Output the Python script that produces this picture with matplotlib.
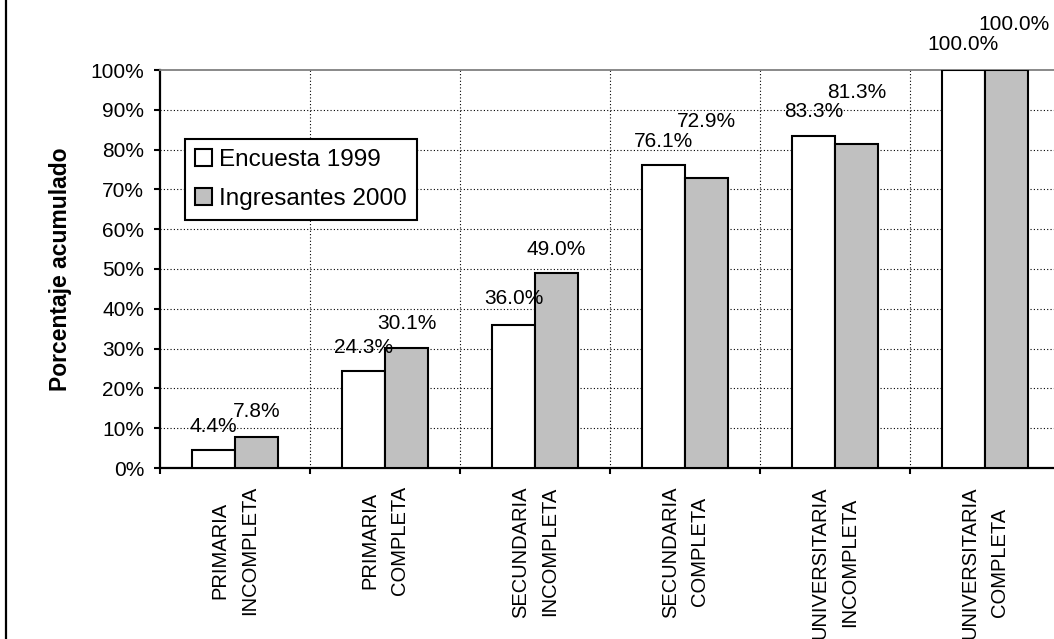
import matplotlib
matplotlib.use("Agg")
import matplotlib.pyplot as plt
from matplotlib.lines import Line2D
import numpy as np

plt.rcParams['font.family'] = ['Liberation Sans', 'DejaVu Sans']

categories = ["PRIMARIA\nINCOMPLETA", "PRIMARIA\nCOMPLETA", "SECUNDARIA\nINCOMPLETA",
              "SECUNDARIA\nCOMPLETA", "UNIVERSITARIA\nINCOMPLETA", "UNIVERSITARIA\nCOMPLETA"]
encuesta_1999 = [4.4, 24.3, 36.0, 76.1, 83.3, 100.0]
ingresantes_2000 = [7.8, 30.1, 49.0, 72.9, 81.3, 100.0]
series_names = ["Encuesta 1999", "Ingresantes 2000"]
yticks = [0, 10, 20, 30, 40, 50, 60, 70, 80, 90, 100]

# label offsets (pixels above bar top) as placed in the original
enc_label_dy = [24, 24, 26, 24, 25, 25]
ing_label_dy = [25, 25, 23, 56, 52, 46]
ing_label_dx = [0, 0, 0, 0, 0, 7]

W, H = 1054, 639
fig = plt.figure(figsize=(W / 100, H / 100), dpi=100)
ax = fig.add_axes([160 / W, 1 - 468 / H, 900 / W, 398 / H])

x = np.arange(len(categories))
bw = 0.2867
b1 = ax.bar(x - bw / 2, encuesta_1999, bw, color='white', edgecolor='black', linewidth=1.5,
            label=series_names[0], zorder=3)
b2 = ax.bar(x + bw / 2, ingresantes_2000, bw, color='#C0C0C0', edgecolor='black', linewidth=1.5,
            label=series_names[1], zorder=3)

ax.set_xlim(-0.5, len(categories) - 0.5)
ax.set_ylim(0, 100)

# grid
for yv in yticks[1:-1]:
    ax.axhline(yv, color='black', linewidth=0.8, linestyle=(0, (1, 2)), zorder=1)
for xv in np.arange(0.5, len(categories) - 0.5, 1):
    ax.axvline(xv, color='black', linewidth=0.8, linestyle=(0, (1, 2)), zorder=1)

ax.set_yticks(yticks)
ax.set_yticklabels([f"{v}%" for v in yticks], fontsize=15)
ax.tick_params(axis='y', direction='out', length=4.5, width=1.5, pad=7)

ax.set_xticks(np.arange(-0.5, len(categories), 1))
ax.set_xticklabels([])
ax.tick_params(axis='x', which='major', direction='out', length=4.5, width=1.5)
ax.set_xticks(x, minor=True)
ax.set_xticklabels(categories, minor=True, rotation=90, fontsize=14.5,
                   multialignment='center', linespacing=1.7)
ax.tick_params(axis='x', which='minor', length=0, pad=13)

for s in ['left', 'bottom']:
    ax.spines[s].set_linewidth(1.6)
    ax.spines[s].set_color('black')
ax.spines['top'].set_color('#808080')
ax.spines['top'].set_linewidth(1.3)
ax.spines['right'].set_visible(False)

ax.set_ylabel("Porcentaje acumulado", fontsize=16.5, fontweight='bold', labelpad=13)

for i, v in enumerate(encuesta_1999):
    ax.annotate(f"{v:.1f}%", (x[i] - bw / 2, v), xytext=(0, enc_label_dy[i]),
                textcoords='offset pixels', ha='center', va='center', fontsize=15,
                annotation_clip=False, zorder=5)
for i, v in enumerate(ingresantes_2000):
    ax.annotate(f"{v:.1f}%", (x[i] + bw / 2, v), xytext=(ing_label_dx[i], ing_label_dy[i]),
                textcoords='offset pixels', ha='center', va='center', fontsize=15,
                annotation_clip=False, zorder=5)

leg = fig.legend(handles=[b1, b2], labels=series_names, loc='upper left',
                 bbox_to_anchor=(185 / W, 1 - 139 / H), fontsize=17.5, frameon=True,
                 fancybox=False, shadow=False, handlelength=0.7, handleheight=0.7,
                 handletextpad=0.3, borderpad=0.4, labelspacing=0.72, borderaxespad=0)
leg.get_frame().set_edgecolor('black')
leg.get_frame().set_linewidth(1.5)
leg.get_frame().set_alpha(1)

# outer chart border (left edge visible)
fig.add_artist(Line2D([6 / W, 6 / W], [0, 1], transform=fig.transFigure,
                      color='black', linewidth=1.6))

fig.savefig("out.png", dpi=100)
